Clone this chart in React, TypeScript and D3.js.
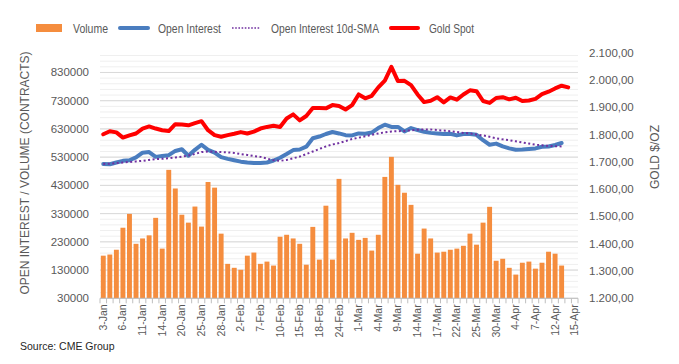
import React from "react";
import * as d3 from "d3";

const dates = [
  "3-Jan", "4-Jan", "5-Jan", "6-Jan", "7-Jan", "10-Jan", "11-Jan", "12-Jan", "13-Jan", "14-Jan",
  "18-Jan", "19-Jan", "20-Jan", "21-Jan", "24-Jan", "25-Jan", "26-Jan", "27-Jan", "28-Jan", "31-Jan",
  "1-Feb", "2-Feb", "3-Feb", "4-Feb", "7-Feb", "8-Feb", "9-Feb", "10-Feb", "11-Feb", "14-Feb",
  "15-Feb", "16-Feb", "17-Feb", "18-Feb", "22-Feb", "23-Feb", "24-Feb", "25-Feb", "28-Feb", "1-Mar",
  "2-Mar", "3-Mar", "4-Mar", "7-Mar", "8-Mar", "9-Mar", "10-Mar", "11-Mar", "14-Mar", "15-Mar",
  "16-Mar", "17-Mar", "18-Mar", "21-Mar", "22-Mar", "23-Mar", "24-Mar", "25-Mar", "28-Mar", "29-Mar",
  "30-Mar", "31-Mar", "1-Apr", "4-Apr", "5-Apr", "6-Apr", "7-Apr", "8-Apr", "11-Apr", "12-Apr",
  "13-Apr", "14-Apr", "15-Apr",
];

const volume = [
  181000, 185000, 202000, 280000, 329000, 223000, 242000, 253000, 315000, 206000,
  485000, 419000, 326000, 298000, 355000, 284000, 442000, 422000, 259000, 152000,
  138000, 131000, 181000, 192000, 152000, 160000, 146000, 248000, 255000, 242000,
  223000, 149000, 283000, 167000, 358000, 167000, 453000, 242000, 262000, 237000,
  244000, 199000, 255000, 460000, 531000, 432000, 404000, 361000, 188000, 277000,
  242000, 192000, 195000, 202000, 206000, 216000, 259000, 220000, 298000, 354000,
  163000, 170000, 138000, 114000, 156000, 160000, 135000, 156000, 195000, 188000,
  146000,
];

const openInterest = [
  506000, 505000, 511000, 517000, 519000, 529000, 546000, 548000, 531000, 534000,
  537000, 552000, 558000, 535000, 556000, 574000, 556000, 546000, 530000, 524000,
  519000, 514000, 511000, 509000, 509000, 511000, 518000, 528000, 541000, 555000,
  557000, 567000, 597000, 603000, 612000, 619000, 614000, 608000, 607000, 614000,
  613000, 617000, 633000, 645000, 637000, 637000, 621000, 633000, 626000, 620000,
  616000, 614000, 612000, 613000, 607000, 612000, 612000, 609000, 590000, 574000,
  578000, 568000, 561000, 556000, 557000, 559000, 561000, 567000, 568000, 573000,
  580000,
];

const oiSma = [
  506000, 507000, 509000, 511000, 513000, 515000, 517000, 520000, 523000, 524000,
  526000, 529000, 532000, 536000, 541000, 548000, 550000, 549000, 548000, 547000,
  545000, 541000, 538000, 534000, 531000, 525000, 519000, 517000, 520000, 526000,
  532000, 541000, 550000, 559000, 568000, 575000, 580000, 587000, 594000, 599000,
  604000, 609000, 614000, 618000, 621000, 622000, 623000, 625000, 627000, 628000,
  628000, 626000, 624000, 622000, 619000, 616000, 614000, 610000, 607000, 602000,
  597000, 593000, 590000, 586000, 582000, 578000, 574000, 572000, 570000, 569000,
  568000,
];

const goldSpot = [
  1801, 1812, 1808, 1789, 1797, 1804, 1822, 1830, 1822, 1816,
  1813, 1838, 1837, 1834, 1842, 1849, 1816, 1798, 1792, 1798,
  1803, 1809, 1804, 1811, 1822, 1828, 1832, 1828, 1859, 1874,
  1852, 1868, 1897, 1897, 1896, 1908, 1905, 1892, 1908, 1947,
  1933, 1942, 1973, 1998, 2048, 1996, 1997, 1981, 1947, 1919,
  1924, 1937, 1918, 1936, 1928, 1947, 1962, 1959, 1923, 1916,
  1934, 1937, 1929, 1935, 1923, 1925, 1931, 1948, 1957, 1969,
  1979, 1973,
];

const leftTicks = d3.range(30000, 830001, 100000);
const rightTicks = d3.range(1200, 2100.1, 100);

const W = 679;
const H = 364;
const FONT = "'Liberation Sans', Arial, sans-serif";
const TEXT = "#595959";

const euro = d3.formatLocale({ decimal: ",", thousands: ".", grouping: [3], currency: ["", ""] });
const fmtRight = euro.format(",.2f");

export default function App() {
  const plotL = 100;
  const plotR = 578;
  const plotT = 52.7;
  const plotB = 298.3;

  const x = d3.scaleBand<number>()
    .domain(dates.map((_, i) => i))
    .range([plotL, plotR])
    .paddingInner(0.25)
    .paddingOuter(0.125);
  const cx = (i: number) => (x(i) ?? 0) + x.bandwidth() / 2;

  const yL = d3.scaleLinear().domain([30000, 900000]).range([plotB, plotT]);
  const yR = d3.scaleLinear().domain([1200, 2100]).range([plotB, plotT]);

  const minorTicks = d3.range(30000, 900000, 20000);

  const lineL = d3.line<number>().x((_, i) => cx(i)).y(d => yL(d));
  const lineR = d3.line<number>().x((_, i) => cx(i)).y(d => yR(d));

  const step = x.step();

  // legend text is squeezed to the narrow widths of the original font
  const lt = { lengthAdjust: "spacingAndGlyphs" as const };

  return (
    <svg width={W} height={H} style={{ position: "absolute", left: 0, top: 0, background: "#fff" }} fontFamily={FONT}>
      {/* legend */}
      <g fontSize={13} fill={TEXT}>
        <rect x={36} y={24} width={26} height={8} fill="#F58D3E" />
        <text x={73} y={32.5} textLength={35} {...lt}>Volume</text>
        <line x1={120} x2={148} y1={28} y2={28} stroke="#4A7DBF" strokeWidth={4} strokeLinecap="round" />
        <text x={158} y={32.5} textLength={63} {...lt}>Open Interest</text>
        <line x1={232} x2={260} y1={28} y2={28} stroke="#7030A0" strokeWidth={1.6} strokeDasharray="1.6,1.6" />
        <text x={271} y={32.5} textLength={108} {...lt}>Open Interest 10d-SMA</text>
        <line x1={391} x2={418} y1={28} y2={28} stroke="#FF0000" strokeWidth={4} strokeLinecap="round" />
        <text x={429} y={32.5} textLength={45} {...lt}>Gold Spot</text>
      </g>

      {/* gridlines */}
      {minorTicks.map(t => (
        <line key={"m" + t} x1={plotL} x2={plotR} y1={yL(t)} y2={yL(t)} stroke="#efefef" strokeWidth={1} />
      ))}
      {leftTicks.map(t => (
        <line key={"g" + t} x1={plotL} x2={plotR} y1={yL(t)} y2={yL(t)} stroke="#d9d9d9" strokeWidth={1} />
      ))}

      {/* volume bars */}
      {volume.map((v, i) => (
        <rect key={"b" + i} x={x(i)} y={yL(v)} width={x.bandwidth()} height={yL(30000) - yL(v)} fill="#F58D3E" />
      ))}

      {/* lines */}
      <path d={lineL(openInterest) ?? ""} fill="none" stroke="#4A7DBF" strokeWidth={4} strokeLinejoin="round" strokeLinecap="round" />
      <path d={lineL(oiSma) ?? ""} fill="none" stroke="#7030A0" strokeWidth={2} strokeDasharray="2,2.5" />
      <path d={lineR(goldSpot) ?? ""} fill="none" stroke="#FF0000" strokeWidth={4} strokeLinejoin="round" strokeLinecap="round" />

      {/* bottom axis */}
      <line x1={plotL} x2={plotR} y1={plotB} y2={plotB} stroke="#bfbfbf" strokeWidth={1} />
      {dates.map((_, i) => (
        <line key={"t" + i} x1={plotL + i * step} x2={plotL + i * step} y1={plotB} y2={plotB + 5} stroke="#bfbfbf" />
      ))}
      <line x1={plotR} x2={plotR} y1={plotB} y2={plotB + 5} stroke="#bfbfbf" />
      {dates.map((d, i) =>
        i % 3 === 0 ? (
          <text key={"xl" + i} transform={`translate(${cx(i) + 3.5},${plotB + 6}) rotate(-90)`} textAnchor="end" fontSize={10.5} fill={TEXT}>
            {d}
          </text>
        ) : null
      )}

      {/* left axis */}
      {leftTicks.map(t => (
        <text key={"ll" + t} x={89} y={yL(t) + 4} textAnchor="end" fontSize={11.5} fill={TEXT}>{t}</text>
      ))}
      <text transform={`translate(29,173) rotate(-90)`} textAnchor="middle" fontSize={12} fill={TEXT}>
        OPEN INTEREST / VOLUME (CONTRACTS)
      </text>

      {/* right axis */}
      {rightTicks.map(t => (
        <text key={"rl" + t} x={589} y={yR(t) + 4} fontSize={11.5} fill={TEXT}>{fmtRight(t)}</text>
      ))}
      <text transform={`translate(659,157) rotate(-90)`} textAnchor="middle" fontSize={12} fill={TEXT}>
        GOLD $/OZ
      </text>

      {/* source */}
      <text x={20} y={350} fontSize={10.5} fill="#262626">Source: CME Group</text>
    </svg>
  );
}
